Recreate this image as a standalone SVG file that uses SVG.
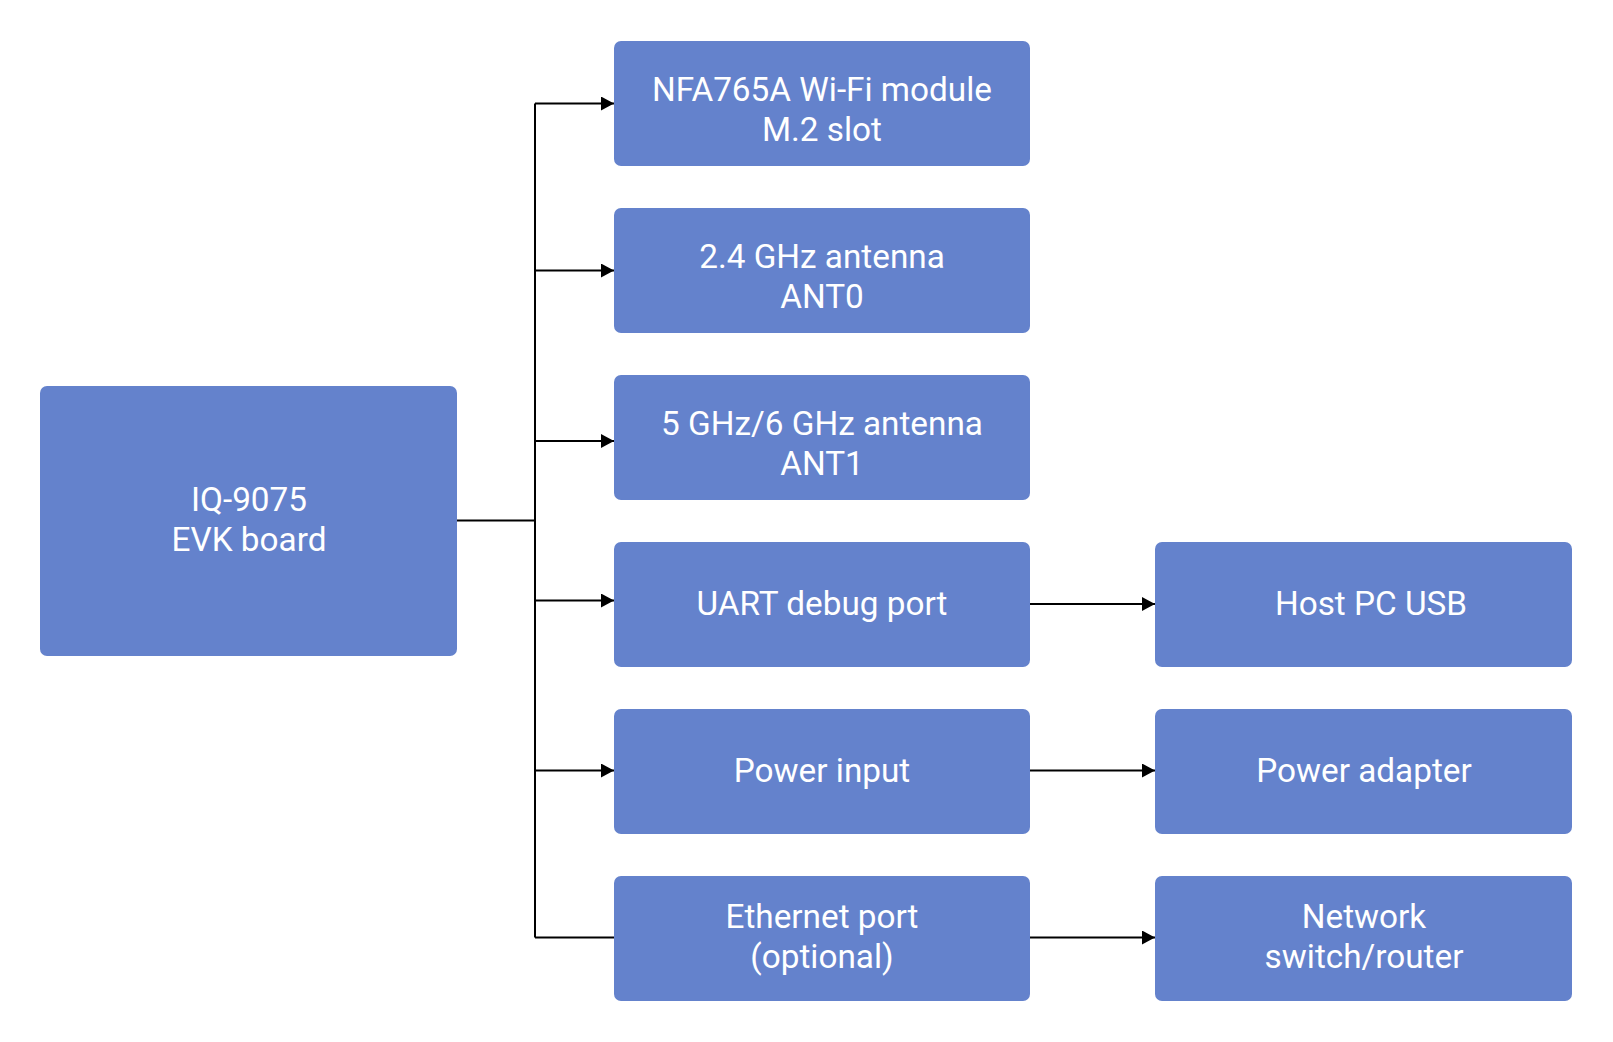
<svg xmlns="http://www.w3.org/2000/svg" width="1613" height="1042" viewBox="0 0 1613 1042">
  <style>
    .box { fill: #6482cc; }
    .lbl { fill: #ffffff; font-family: Roboto, "Liberation Sans", sans-serif; font-size: 33.3px; text-anchor: middle; }
    .conn { fill: none; stroke: #000000; stroke-width: 2; }
  </style>
  <defs>
    <marker id="arrow" viewBox="0 0 13 14" refX="13" refY="7" markerWidth="13" markerHeight="14" markerUnits="userSpaceOnUse" orient="auto">
      <path d="M0,0 L13,7 L0,14 Z" fill="#000000"/>
    </marker>
  </defs>
  <rect width="1613" height="1042" fill="#ffffff"/>

  <g id="connectors">
    <line class="conn" x1="457" y1="520.5" x2="535" y2="520.5"/>
    <line class="conn" x1="535" y1="103.5" x2="535" y2="937.5"/>
    <line class="conn" x1="535" y1="103.5" x2="614" y2="103.5" marker-end="url(#arrow)"/>
    <line class="conn" x1="535" y1="270.5" x2="614" y2="270.5" marker-end="url(#arrow)"/>
    <line class="conn" x1="535" y1="441" x2="614" y2="441" marker-end="url(#arrow)"/>
    <line class="conn" x1="535" y1="600.5" x2="614" y2="600.5" marker-end="url(#arrow)"/>
    <line class="conn" x1="535" y1="770.5" x2="614" y2="770.5" marker-end="url(#arrow)"/>
    <line class="conn" x1="535" y1="937.5" x2="614" y2="937.5"/>
    <line class="conn" x1="1030" y1="604" x2="1155" y2="604" marker-end="url(#arrow)"/>
    <line class="conn" x1="1030" y1="770.5" x2="1155" y2="770.5" marker-end="url(#arrow)"/>
    <line class="conn" x1="1030" y1="937.5" x2="1155" y2="937.5" marker-end="url(#arrow)"/>
  </g>

  <g id="board">
    <rect class="box" x="40" y="386" width="417" height="270" rx="7"/>
    <text class="lbl" x="249" y="511">IQ-9075</text>
    <text class="lbl" x="249" y="551">EVK board</text>
  </g>

  <g id="wifi">
    <rect class="box" x="614" y="41" width="416" height="125" rx="7"/>
    <text class="lbl" x="822" y="101">NFA765A Wi-Fi module</text>
    <text class="lbl" x="822" y="141">M.2 slot</text>
  </g>

  <g id="ant0">
    <rect class="box" x="614" y="208" width="416" height="125" rx="7"/>
    <text class="lbl" x="822" y="268">2.4 GHz antenna</text>
    <text class="lbl" x="822" y="308">ANT0</text>
  </g>

  <g id="ant1">
    <rect class="box" x="614" y="375" width="416" height="125" rx="7"/>
    <text class="lbl" x="822" y="435">5 GHz/6 GHz antenna</text>
    <text class="lbl" x="822" y="475">ANT1</text>
  </g>

  <g id="uart">
    <rect class="box" x="614" y="542" width="416" height="125" rx="7"/>
    <text class="lbl" x="822" y="615">UART debug port</text>
  </g>

  <g id="power">
    <rect class="box" x="614" y="709" width="416" height="125" rx="7"/>
    <text class="lbl" x="822" y="782">Power input</text>
  </g>

  <g id="ethernet">
    <rect class="box" x="614" y="876" width="416" height="125" rx="7"/>
    <text class="lbl" x="822" y="928">Ethernet port</text>
    <text class="lbl" x="822" y="968">(optional)</text>
  </g>

  <g id="hostpc">
    <rect class="box" x="1155" y="542" width="417" height="125" rx="7"/>
    <text class="lbl" x="1371" y="615">Host PC USB</text>
  </g>

  <g id="adapter">
    <rect class="box" x="1155" y="709" width="417" height="125" rx="7"/>
    <text class="lbl" x="1364" y="782">Power adapter</text>
  </g>

  <g id="network">
    <rect class="box" x="1155" y="876" width="417" height="125" rx="7"/>
    <text class="lbl" x="1364" y="928">Network</text>
    <text class="lbl" x="1364" y="968">switch/router</text>
  </g>
</svg>
